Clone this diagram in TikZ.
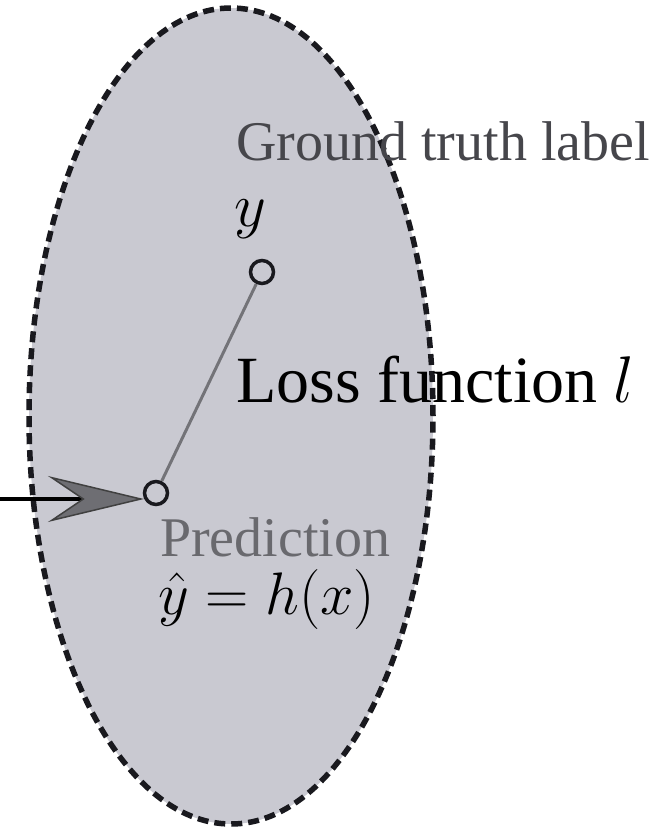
\RequirePackage{fix-cm}
\documentclass[tikz,border=0pt]{standalone}
\usepackage{fontspec}
\setmainfont{Liberation Serif}
\usetikzlibrary{shapes.geometric,arrows.meta}
\definecolor{regionfill}{RGB}{201,201,209}
\definecolor{edgedark}{RGB}{25,25,30}
\definecolor{labelgray}{RGB}{70,70,75}
\definecolor{predgray}{RGB}{105,105,110}
\definecolor{linkgray}{RGB}{115,115,120}
\definecolor{headgray}{RGB}{110,110,115}
\tikzset{
  region/.style={ellipse, draw=edgedark, fill=regionfill, line width=5.5pt,
    dash pattern=on 11pt off 6pt, inner sep=0pt,
    minimum width=404pt, minimum height=816pt},
  point/.style={circle, draw=edgedark, line width=3.5pt, minimum size=23pt, inner sep=0pt},
  small/.style={font=\fontsize{56}{60}\selectfont, inner sep=0pt},
  big/.style={font=\fontsize{66}{70}\selectfont, inner sep=0pt},
  link/.style={draw=linkgray, line width=3pt},
  feed/.style={draw=black, line width=3.5pt,
    -{Stealth[length=96pt, width=46pt, inset=34pt, fill=headgray, color=black!75, line width=1.5pt]}}
}
\begin{document}
\begin{tikzpicture}[x=1pt, y=-1pt]
  \useasboundingbox (0,0) rectangle (664,831);
  \node[region] (region) at (231,416) {};
  \node[small, text=labelgray, anchor=base west] (gtl) at (236,160) {Ground truth label};
  \node[font=\fontsize{62}{66}\selectfont, inner sep=0pt, anchor=base west] (ylab) at (234,226) {$y$};
  \node[point] (truth) at (262,272) {};
  \node[point] (pred) at (156,493) {};
  \draw[link] (truth) -- (pred);
  \node[big, anchor=base west] (loss) at (236,402) {Loss function $l$};
  \node[small, text=predgray, anchor=base west] (predlab) at (160,556) {Prediction};
  \node[font=\fontsize{60}{64}\selectfont, inner sep=0pt, anchor=base west] (eq) at (158,614) {$\hat{y}\mskip 5mu{=}\mskip 5mu h(x)$};
  \coordinate (src) at (0,499);
  \coordinate (tip) at (144,499);
  \draw[feed] (src) -- (tip);
\end{tikzpicture}
\end{document}
